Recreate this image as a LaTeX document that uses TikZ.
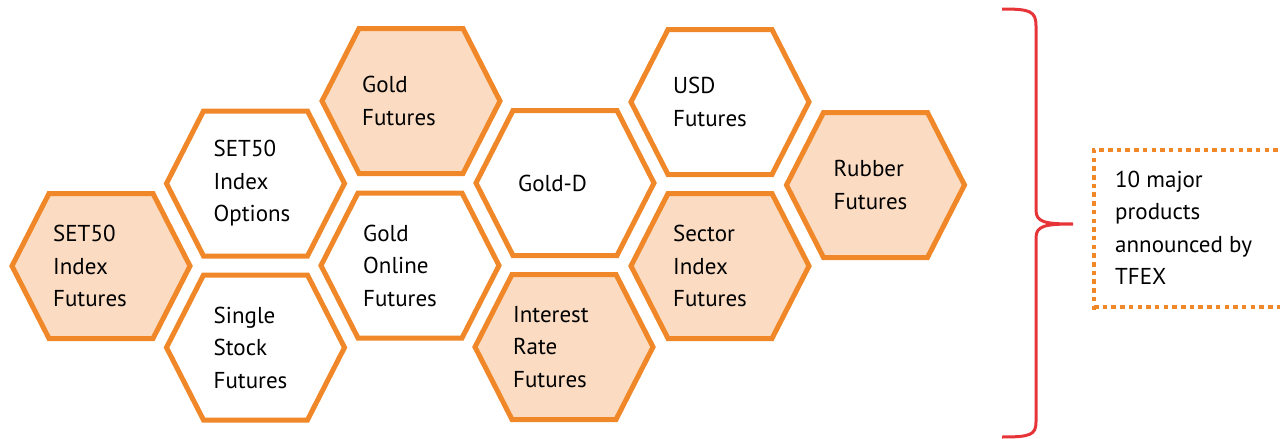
\documentclass[tikz,border=0pt]{standalone}
\usepackage{fontspec}
\setmainfont{PT Sans}
\usepackage{xcolor}
\usetikzlibrary{positioning,calc}

\definecolor{hexorange}{RGB}{240,135,40}
\definecolor{hexpeach}{RGB}{251,220,194}
\definecolor{bracered}{RGB}{230,52,57}

\begin{document}
\begin{tikzpicture}[x=1pt,y=-1pt,
  hexline/.style={draw=hexorange,line width=5pt},
  hextext/.style={anchor=west,align=left,inner sep=0pt,font=\fontsize{23}{32.5}\selectfont},
  notebox/.style={draw=hexorange,line width=4.5pt,dash pattern=on 4.5pt off 4.2pt}]
  \useasboundingbox (0,0) rectangle (1280,439);
  % honeycomb of products
  \foreach \n/\cx/\cy/\fl/\dx/\txt in {
      sif/101/266/hexpeach/-48/{SET50\\Index\\Futures},
      sio/255.5/183.5/white/-42/{SET50\\Index\\Options},
      ssf/255.5/347.5/white/-42/{Single\\Stock\\Futures},
      gf/411/101/hexpeach/-49/{Gold\\Futures},
      gof/410/265.5/white/-47/{Gold\\Online\\Futures},
      gd/565/183/white/-47/{Gold-D},
      irf/564/347/hexpeach/-51/{Interest\\Rate\\Futures},
      usd/720/102/white/-47/{USD\\Futures},
      secf/720/266/hexpeach/-47/{Sector\\Index\\Futures},
      rub/875.5/185/hexpeach/-42/{Rubber\\Futures}} {
    \filldraw[hexline,fill=\fl] (\cx+89,\cy) -- (\cx+52,\cy-72.5) -- (\cx-52,\cy-72.5)
      -- (\cx-89,\cy) -- (\cx-52,\cy+72.5) -- (\cx+52,\cy+72.5) -- cycle;
    \node[hextext] (\n) at (\cx+\dx,\cy) {\txt};
  }
  % brace and note
  \coordinate (btop) at (1002,9);
  \coordinate (btip) at (1073,224);
  \coordinate (bbot) at (1002,437);
  \draw[bracered,line width=3pt] (btop) .. controls (1030,9) and (1036,11) .. (1036,26)
    -- (1036,210) .. controls (1036,222) and (1044,224) .. (btip)
    .. controls (1044,224) and (1036,226) .. (1036,238)
    -- (1036,422) .. controls (1036,435) and (1030,437) .. (bbot);
  \draw[notebox] (1094,310) -- (1094,150) -- (1300,150);
  \draw[notebox] (1094,307) -- (1300,307);
  \node[hextext] (note) at (1115,228) {10 major\\products\\announced by\\TFEX};
\end{tikzpicture}
\end{document}
